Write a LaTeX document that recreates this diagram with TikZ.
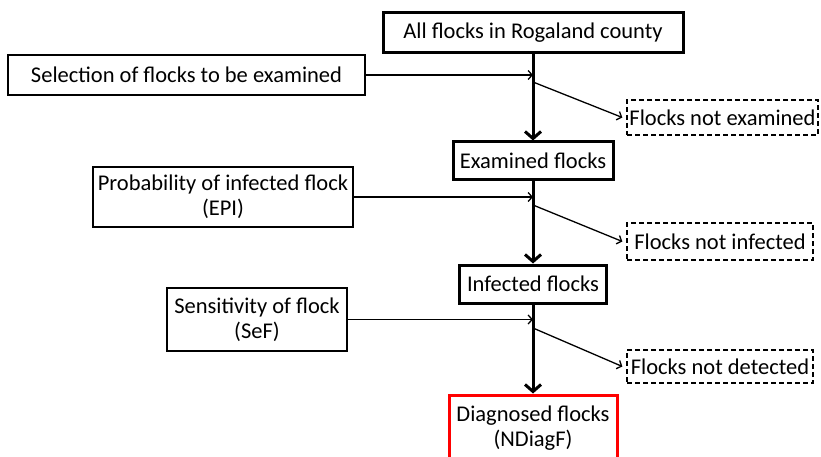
\documentclass[tikz,border=0pt]{standalone}
\usepackage{fontspec}
\setmainfont{Carlito}
\usetikzlibrary{arrows.meta}
\begin{document}
\begin{tikzpicture}[x=1pt,y=-1pt,
  every node/.style={font=\fontsize{22.5}{25}\selectfont, inner sep=0pt, align=center},
  thickbox/.style={draw, line width=3pt, rectangle},
  thinbox/.style={draw, line width=1.3pt, rectangle},
  dashbox/.style={draw, line width=1.3pt, rectangle, dash pattern=on 5pt off 3pt},
  redbox/.style={draw=red, line width=3pt, rectangle},
  mainarrow/.style={line width=3pt, -{Straight Barb[length=7pt,width=16pt,line width=3pt]}},
  thinarrow/.style={line width=1.3pt, -{Straight Barb[length=4pt,width=9pt,line width=1.3pt]}}
]
\useasboundingbox (0,0) rectangle (821,457);
\fill[white] (0,0) rectangle (821,457);

\node[thickbox, minimum width=300pt, minimum height=40pt] (all) at (533,33) {All flocks in Rogaland county};
\node[thinbox, minimum width=357pt, minimum height=40pt] (sel) at (186.5,75) {Selection of flocks to be examined};
\node[dashbox, minimum width=191pt, minimum height=35pt] (notex) at (722.5,117.5) {Flocks not examined};

\node[thickbox, minimum width=160pt, minimum height=38pt] (exam) at (533,161) {Examined flocks};
\node[thinbox, minimum width=260pt, minimum height=60pt] (prob) at (223,197) {Probability of infected flock\\(EPI)};
\node[dashbox, minimum width=186pt, minimum height=37pt] (notinf) at (720,241.5) {Flocks not infected};

\node[thickbox, minimum width=147pt, minimum height=38pt] (inf) at (533,284) {Infected flocks};
\node[thinbox, minimum width=180pt, minimum height=63pt] (sens) at (257,319.5) {Sensitivity of flock\\(SeF)};
\node[dashbox, minimum width=186pt, minimum height=33pt] (notdet) at (720,366.5) {Flocks not detected};

\node[redbox, minimum width=168pt, minimum height=67pt] (diag) at (533,428.5) {Diagnosed flocks\\(NDiagF)};

\coordinate (j1) at (533,75);
\coordinate (k1) at (533,82);
\coordinate (j2) at (533,197);
\coordinate (k2) at (533,205);
\coordinate (j3) at (533,319.5);
\coordinate (k3) at (533,328);

\draw[mainarrow] (all.south) -- (exam.north);
\draw[mainarrow] (exam.south) -- (inf.north);
\draw[mainarrow] (inf.south) -- (diag.north);

\draw[thinarrow] (sel.east) -- (j1);
\draw[thinarrow] (prob.east) -- (j2);
\draw[thinarrow] (sens.east) -- (j3);

\draw[thinarrow] (k1) -- ([xshift=-4pt]notex.west);
\draw[thinarrow] (k2) -- ([xshift=-4pt]notinf.west);
\draw[thinarrow] (k3) -- ([xshift=-4pt]notdet.west);
\end{tikzpicture}
\end{document}
